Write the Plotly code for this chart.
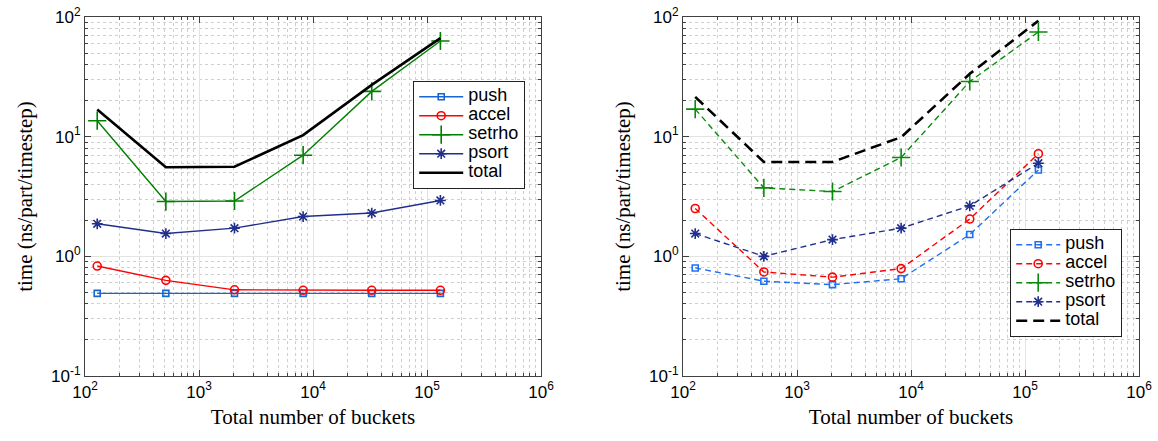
import plotly.graph_objects as go

buckets = [128, 512, 2048, 8192, 32768, 131072]

# Left panel (solid lines)
left_push = [0.49, 0.49, 0.49, 0.49, 0.49, 0.49]
left_accel = [0.83, 0.63, 0.525, 0.52, 0.52, 0.52]
left_setrho = [13.6, 2.87, 2.9, 7.0, 23.9, 63.0]
left_psort = [1.87, 1.55, 1.72, 2.15, 2.30, 2.93]
left_total = [16.9, 5.55, 5.6, 10.3, 27.1, 66.5]

# Right panel (dashed lines)
right_push = [0.80, 0.62, 0.58, 0.65, 1.52, 5.27]
right_accel = [2.51, 0.74, 0.67, 0.79, 2.05, 7.2]
right_setrho = [17.0, 3.73, 3.48, 6.7, 28.9, 75.0]
right_psort = [1.55, 1.00, 1.38, 1.72, 2.64, 6.0]
right_total = [21.5, 6.15, 6.15, 9.9, 33.5, 93.0]

series_names = ["push", "accel", "setrho", "psort", "total"]
x_ticks = [1e2, 1e3, 1e4, 1e5, 1e6]
x_ticktext = ["10<sup>2</sup>", "10<sup>3</sup>", "10<sup>4</sup>", "10<sup>5</sup>", "10<sup>6</sup>"]
y_ticks = [1e-1, 1e0, 1e1, 1e2]
y_ticktext = ["10<sup>-1</sup>", "10<sup>0</sup>", "10<sup>1</sup>", "10<sup>2</sup>"]

W, H = 1158, 441

x_minor = [m * 10 ** e for e in range(2, 6) for m in range(2, 10)]
y_minor = [m * 10 ** e for e in range(-1, 2) for m in range(2, 10)]

colors_left = {"push": "#1667d2", "accel": "#ff0000", "setrho": "#008000",
               "psort": "#202f8c", "total": "#000000"}
colors_right = {"push": "#1f70f5", "accel": "#ff0000", "setrho": "#0a8a0a",
                "psort": "#202f8c", "total": "#000000"}
markers = {"push": ("square-open", 6), "accel": ("circle-open", 8),
           "setrho": ("cross-thin-open", 13), "psort": ("asterisk-open", 9)}

fig = go.Figure()

def legend_label(name):
    return f'<span style="font-size:18px">{name}</span>'

def add_series(values, name, xa, ya, legend, colors, dash, total_dash):
    if name == "total":
        fig.add_trace(go.Scatter(
            x=buckets, y=values, name=legend_label(name), mode="lines",
            line=dict(color=colors[name], width=2.6, dash=total_dash),
            xaxis=xa, yaxis=ya, legend=legend, cliponaxis=True))
    else:
        sym, sz = markers[name]
        fig.add_trace(go.Scatter(
            x=buckets, y=values, name=legend_label(name), mode="lines+markers",
            line=dict(color=colors[name], width=1.4, dash=dash),
            marker=dict(symbol=sym, size=sz, color=colors[name],
                        line=dict(color=colors[name], width=1.6)),
            xaxis=xa, yaxis=ya, legend=legend, cliponaxis=True))

left_data = [left_push, left_accel, left_setrho, left_psort, left_total]
right_data = [right_push, right_accel, right_setrho, right_psort, right_total]
for vals, nm in zip(left_data, series_names):
    add_series(vals, nm, "x", "y", "legend", colors_left, "solid", "solid")
for vals, nm in zip(right_data, series_names):
    add_series(vals, nm, "x2", "y2", "legend2", colors_right, "6px,4px", "11px,6px")

tick_font = dict(family="Liberation Sans, Arial, sans-serif", size=17, color="#000000")
title_font = dict(family="Liberation Serif, Times New Roman, serif", size=21, color="#000000")

def minor_cfg(vals):
    return dict(tickmode="array", tickvals=vals, ticks="inside", ticklen=3,
                tickcolor="#404040", showgrid=True, gridcolor="#cfcfcf",
                griddash="dot", gridwidth=1)

def xaxis_cfg(domain, anchor):
    return dict(
        type="log", domain=domain, anchor=anchor, range=[2, 6],
        tickmode="array", tickvals=x_ticks, ticktext=x_ticktext,
        tickfont=tick_font, ticks="inside", ticklen=6, tickcolor="#404040",
        showline=True, linecolor="#404040", linewidth=1.2, mirror="ticks",
        showgrid=True, gridcolor="#e3e3e3", gridwidth=1.2,
        minor=minor_cfg(x_minor),
        zeroline=False,
        title=dict(text="Total number of buckets", font=title_font, standoff=8),
        automargin=False,
    )

def yaxis_cfg(domain, anchor):
    return dict(
        type="log", domain=domain, anchor=anchor, range=[-1, 2],
        tickmode="array", tickvals=y_ticks, ticktext=y_ticktext,
        tickfont=tick_font, ticks="inside", ticklen=6, tickcolor="#404040",
        showline=True, linecolor="#404040", linewidth=1.2, mirror="ticks",
        showgrid=True, gridcolor="#e3e3e3", gridwidth=1.2,
        minor=minor_cfg(y_minor),
        zeroline=False,
        title=dict(text="time (ns/part/timestep)", font=title_font, standoff=12),
        automargin=False,
    )

legend_font = dict(family="Liberation Sans, Arial, sans-serif", size=12, color="#000")
ydom = [(H - 376) / H, (H - 17) / H]
fig.update_layout(
    width=W, height=H,
    margin=dict(l=0, r=0, t=0, b=0),
    paper_bgcolor="white", plot_bgcolor="white",
    xaxis=xaxis_cfg([85 / W, 541 / W], "y"),
    yaxis=yaxis_cfg(ydom, "x"),
    xaxis2=xaxis_cfg([683 / W, 1139 / W], "y2"),
    yaxis2=yaxis_cfg(ydom, "x2"),
    legend=dict(x=413 / W, y=(H - 81) / H, xanchor="left", yanchor="top",
                bgcolor="white", bordercolor="#222222", borderwidth=1.2,
                font=legend_font, tracegroupgap=0, itemwidth=44),
    legend2=dict(x=1010 / W, y=(H - 229) / H, xanchor="left", yanchor="top",
                 bgcolor="white", bordercolor="#222222", borderwidth=1.2,
                 font=legend_font, tracegroupgap=0, itemwidth=44),
    showlegend=True,
)

fig.write_html("out.html",
               config={"displayModeBar": False},
               post_script="document.body.style.margin='0';document.body.style.overflow='hidden';")
